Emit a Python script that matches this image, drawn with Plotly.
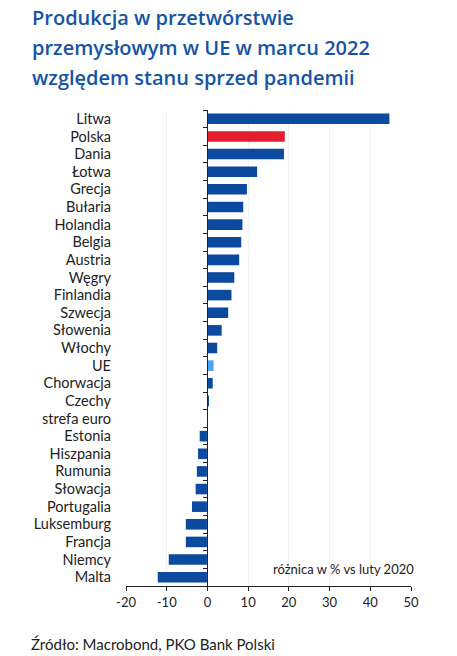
import plotly.graph_objects as go

countries = ["Litwa", "Polska", "Dania", "Łotwa", "Grecja", "Bułaria", "Holandia", "Belgia",
             "Austria", "Węgry", "Finlandia", "Szwecja", "Słowenia", "Włochy", "UE", "Chorwacja",
             "Czechy", "strefa euro", "Estonia", "Hiszpania", "Rumunia", "Słowacja", "Portugalia",
             "Luksemburg", "Francja", "Niemcy", "Malta"]
values = [44.7, 19.0, 18.8, 12.2, 9.7, 8.8, 8.6, 8.3, 7.8, 6.6, 5.9, 5.1, 3.5, 2.4, 1.5, 1.3,
          0.2, 0.1, -1.9, -2.3, -2.6, -2.9, -3.8, -5.3, -5.3, -9.5, -12.2]
x_ticks = [-20, -10, 0, 10, 20, 30, 40, 50]
title_lines = ["Produkcja w przetwórstwie", "przemysłowym w UE w marcu 2022",
               "względem stanu sprzed pandemii"]

DARK = "#0b4a9e"
RED = "#e31e2f"
LIGHT = "#4ea4f4"
colors = [RED if c == "Polska" else LIGHT if c == "UE" else DARK for c in countries]

W, H = 457, 656
ML, MR, MT, MB = 126, 46, 110, 70
PW, PH = W - ML - MR, H - MT - MB

fig = go.Figure()
fig.add_trace(go.Bar(x=values, y=countries, orientation="h", marker=dict(color=colors, line=dict(width=0)),
                     width=0.6, showlegend=False, hoverinfo="x+y"))
# invisible trace to carry the boundary-tick axis located at x = 0
fig.add_trace(go.Bar(x=[0] * len(countries), y=countries, orientation="h", yaxis="y2",
                     marker=dict(color="rgba(0,0,0,0)"), showlegend=False, hoverinfo="skip"))

font = "Lato, 'Open Sans', sans-serif"
fig.update_layout(
    width=W, height=H,
    margin=dict(l=ML, r=MR, t=MT, b=MB),
    paper_bgcolor="white", plot_bgcolor="white",
    font=dict(family=font, color="#222222", size=13),
    xaxis=dict(range=[-20, 50], tickvals=x_ticks, ticktext=[str(v) for v in x_ticks],
               showgrid=True, gridcolor="#f3f3f3", gridwidth=1, zeroline=False,
               showline=True, linecolor="#222222", linewidth=1,
               ticks="outside", ticklen=4, tickcolor="#222222", tickfont=dict(size=13),
               fixedrange=True),
    yaxis=dict(categoryorder="array", categoryarray=countries[::-1], autorange=False,
               range=[-0.5, len(countries) - 0.5],
               showgrid=False, zeroline=False, showline=False, ticks="", ticklabelstandoff=14,
               tickfont=dict(size=14.5, color="#222222")),
    yaxis2=dict(overlaying="y", matches="y", anchor="free", position=2 / 7, side="left",
                showticklabels=False, showgrid=False, zeroline=False,
                showline=True, linecolor="#222222", linewidth=1,
                ticks="outside", tickson="boundaries", ticklen=4, tickcolor="#222222",
                categoryorder="array", categoryarray=countries[::-1]),
)

for i, line in enumerate(title_lines):
    ypix = 17 + 30 * i
    fig.add_annotation(text=line, xref="paper", yref="paper",
                       x=(30 - ML) / PW, y=1 + (MT - ypix) / PH, xanchor="left", yanchor="middle",
                       showarrow=False,
                       font=dict(family="'Open Sans', sans-serif", size=20, color="#1554a5", weight=600))

fig.add_annotation(text="różnica w % vs luty 2020", xref="paper", yref="paper", x=(416 - ML) / PW,
                   y=(MT + PH - 569) / PH, xanchor="right", yanchor="middle", showarrow=False,
                   font=dict(size=13, color="#222222"))
fig.add_annotation(text="Źródło: Macrobond, PKO Bank Polski", xref="paper", yref="paper",
                   x=(29 - ML) / PW, y=(MT + PH - 644) / PH, xanchor="left", yanchor="middle",
                   showarrow=False, font=dict(size=15, color="#222222"))

fig.write_html("out.html", config={"displayModeBar": False},
               post_script="document.body.style.margin='0';")
